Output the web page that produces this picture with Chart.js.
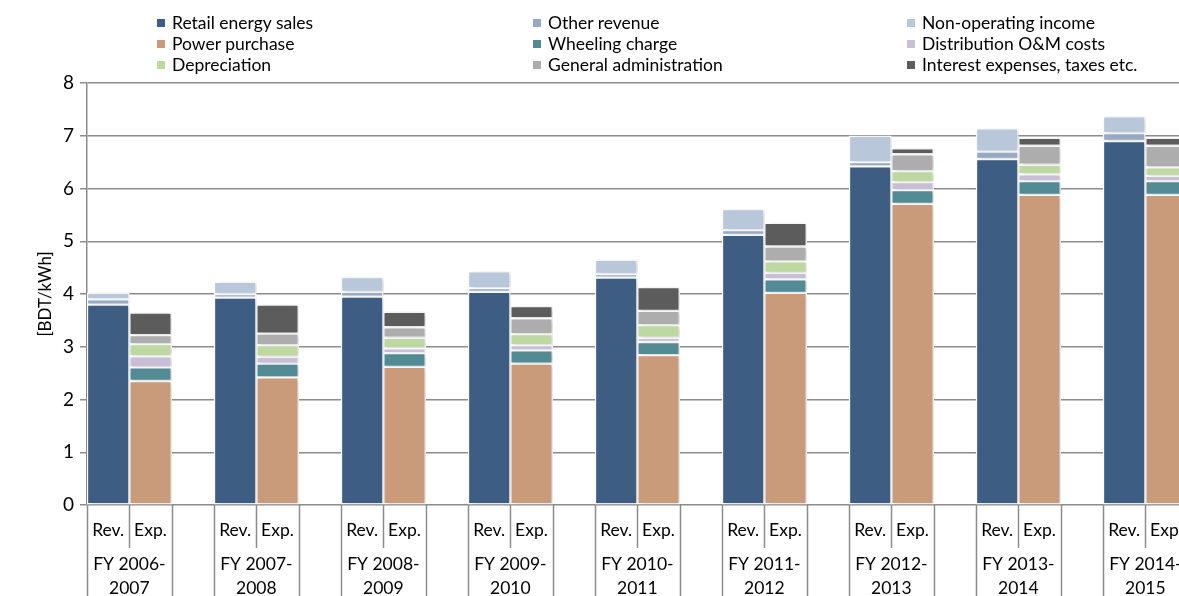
<!DOCTYPE html>
<html><head><meta charset="utf-8">
<script src="https://cdn.jsdelivr.net/npm/chart.js@4.4.0/dist/chart.umd.min.js"></script>
<style>
html,body{margin:0;padding:0;background:#fff;overflow:hidden;}
#wrap{position:relative;width:1179px;height:596px;overflow:hidden;background:#fff;}
#holder{position:absolute;left:0;top:0;width:1240px;height:596px;}
.leg{position:absolute;font:17.5px Lato, "Open Sans", sans-serif;color:#000;white-space:nowrap;line-height:20px;}
.leg .m{position:absolute;width:8px;height:8px;top:6px;}
</style></head>
<body>
<div id="wrap"><div id="holder"><canvas id="c" width="1240" height="596"></canvas></div><div id="legend"></div></div>
<script>
// ---- data ----
const groupLabels = [['FY 2006-','2007'],['FY 2007-','2008'],['FY 2008-','2009'],['FY 2009-','2010'],['FY 2010-','2011'],['FY 2011-','2012'],['FY 2012-','2013'],['FY 2013-','2014'],['FY 2014-','2015']];
const subLabels = ['Rev.','Exp.',''];
const yTicks = [0,1,2,3,4,5,6,7,8];

const retailSales   = [3.80,3.93,3.95,4.04,4.31,5.12,6.42,6.56,6.90];
const otherRevenue  = [0.10,0.07,0.09,0.07,0.07,0.09,0.08,0.14,0.15];
const nonOperating  = [0.12,0.23,0.28,0.32,0.27,0.40,0.50,0.44,0.32];

const powerPurchase = [2.35,2.42,2.62,2.68,2.84,4.02,5.71,5.88,5.88];
const wheeling      = [0.26,0.26,0.26,0.25,0.25,0.26,0.26,0.26,0.26];
const distribution  = [0.21,0.13,0.09,0.10,0.08,0.12,0.15,0.13,0.10];
const depreciation  = [0.23,0.22,0.20,0.21,0.24,0.22,0.21,0.18,0.16];
const generalAdmin  = [0.17,0.22,0.20,0.30,0.27,0.28,0.32,0.36,0.41];
const interestEtc   = [0.43,0.55,0.29,0.23,0.45,0.45,0.11,0.15,0.15];

const seriesNames = ['Retail energy sales','Other revenue','Non-operating income','Power purchase','Wheeling charge','Distribution O&M costs','Depreciation','General administration','Interest expenses, taxes etc.'];
const seriesColors = ['#3e5d82','#96aac4','#b9c7da','#c99b7b','#538b95','#c8bfd7','#bdd8a1','#adadad','#5c5c5c'];

// ---- build ----
const labels = [];
groupLabels.forEach(() => subLabels.forEach(s => labels.push(s)));
function spread(vals, offset){ const a = new Array(labels.length).fill(null); vals.forEach((v,i)=>{a[i*3+offset]=v;}); return a; }
const seriesData = [
  spread(retailSales,0), spread(otherRevenue,0), spread(nonOperating,0),
  spread(powerPurchase,1), spread(wheeling,1), spread(distribution,1), spread(depreciation,1), spread(generalAdmin,1), spread(interestEtc,1)
];
const datasets = seriesData.map((d,i)=>({label:seriesNames[i], data:d, backgroundColor:seriesColors[i], borderColor:'#ffffff', borderWidth:1.5, borderSkipped:false, barPercentage:1, categoryPercentage:1}));

// legend (HTML text)
const legPos = [[157,13],[533,13],[907,13],[157,34],[533,34],[907,34],[157,55],[533,55],[907,55]];
const legEl = document.getElementById('legend');
seriesNames.forEach((name,k)=>{
  const d = document.createElement('div'); d.className='leg';
  d.style.left = legPos[k][0]+'px'; d.style.top = legPos[k][1]+'px';
  d.innerHTML = '<span class="m" style="left:0;background:'+seriesColors[k]+'"></span><span style="margin-left:15px">'+name+'</span>';
  legEl.appendChild(d);
});

const FONT = 'Lato, "Open Sans", sans-serif';

const shadowPlugin = {
  id:'shadow',
  beforeDatasetsDraw(chart){ const c=chart.ctx; c.save(); c.shadowColor='rgba(0,0,0,0.18)'; c.shadowBlur=5; c.shadowOffsetX=2; c.shadowOffsetY=1; },
  afterDatasetsDraw(chart){ chart.ctx.restore(); }
};

const xLabelPlugin = {
  id:'xlabels',
  afterDraw(chart){
    const c = chart.ctx, xs = chart.scales.x, area = chart.chartArea;
    const n = labels.length, w = (area.right-area.left)/n;
    c.save();
    c.strokeStyle = '#8c8c8c'; c.lineWidth = 1.5;
    for(let i=0;i<=n;i++){
      const x = Math.round(area.left + i*w)+0.5;
      const yEnd = (i%3===1) ? 548 : chart.height;
      c.beginPath(); c.moveTo(x, area.bottom); c.lineTo(x, yEnd); c.stroke();
    }
    c.fillStyle = '#000'; c.font = '17.5px ' + FONT; c.textAlign='center'; c.textBaseline='middle';
    labels.forEach((l,i)=>{ if(l) c.fillText(l, xs.getPixelForValue(i), 530); });
    groupLabels.forEach((g,gi)=>{
      const x = area.left + (gi*3+1)*w;
      c.fillText(g[0], x, 564); c.fillText(g[1], x, 588);
    });
    c.restore();
  }
};

new Chart(document.getElementById('c'), {
  type:'bar',
  data:{labels, datasets},
  options:{
    responsive:false, animation:false,
    layout:{padding:{top:83,right:10,left:0,bottom:0}},
    plugins:{legend:{display:false}, tooltip:{enabled:false}},
    scales:{
      x:{stacked:true, ticks:{display:false}, grid:{display:false}, border:{display:false},
         afterFit(s){ s.height = 91; }},
      y:{stacked:true, min:0, max:8,
         afterBuildTicks(s){ s.ticks = yTicks.map(v=>({value:v})); },
         ticks:{color:'#000', font:{family:FONT, size:19}, padding:6},
         grid:{color:'#8c8c8c', lineWidth:1.5, tickLength:7},
         border:{color:'#8c8c8c', width:1.5},
         title:{display:true, text:'[BDT/kWh]', color:'#000', font:{family:FONT, size:17}, padding:{top:35,bottom:0}},
         afterFit(s){ s.width = 87; }}
    }
  },
  plugins:[shadowPlugin, xLabelPlugin]
});
</script>
</body></html>
